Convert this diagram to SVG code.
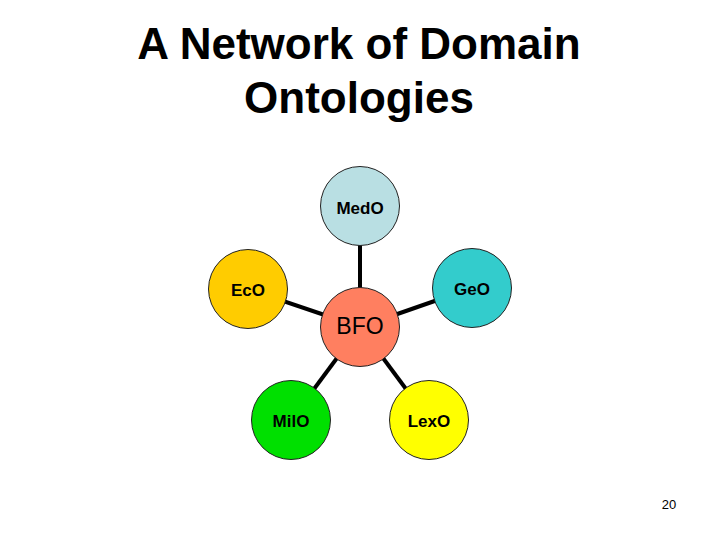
<svg xmlns="http://www.w3.org/2000/svg" width="720" height="540" viewBox="0 0 720 540">
<style>
.title{font-family:"Liberation Sans",Arial,sans-serif;font-weight:bold;font-size:44px;fill:#000;text-anchor:middle}
.lbl{font-family:"Liberation Sans",Arial,sans-serif;font-weight:bold;font-size:17px;fill:#000;text-anchor:middle}
.big{font-family:"Liberation Sans",Arial,sans-serif;font-size:23px;fill:#000;text-anchor:middle}
.pg{font-family:"Liberation Sans",Arial,sans-serif;font-size:13px;fill:#000;text-anchor:middle}
.node{stroke:#222;stroke-width:1}
.conn{stroke:#000;stroke-width:4;fill:none}
</style>
<rect width="720" height="540" fill="#fff"/>
<text class="title" x="359" y="59">A Network of Domain</text>
<text class="title" x="359" y="113">Ontologies</text>
<g id="connectors">
<line class="conn" x1="360" y1="206" x2="360" y2="327"/>
<line class="conn" x1="248" y1="289" x2="360" y2="327"/>
<line class="conn" x1="472" y1="288" x2="360" y2="327"/>
<line class="conn" x1="291" y1="420" x2="360" y2="327"/>
<line class="conn" x1="429" y1="420" x2="360" y2="327"/>
</g>
<g id="MedO"><circle class="node" cx="360" cy="206" r="39.5" fill="#b9dfe3"/><text class="lbl" x="360" y="214">MedO</text></g>
<g id="EcO"><circle class="node" cx="248" cy="289" r="39.5" fill="#ffcc00"/><text class="lbl" x="248" y="296">EcO</text></g>
<g id="GeO"><circle class="node" cx="472" cy="288" r="39.5" fill="#33cccc"/><text class="lbl" x="472" y="295">GeO</text></g>
<g id="BFO"><circle class="node" cx="360" cy="327" r="39.5" fill="#ff7f60"/><text class="big" x="360" y="334">BFO</text></g>
<g id="MilO"><circle class="node" cx="291" cy="420" r="39.5" fill="#00e000"/><text class="lbl" x="291" y="427">MilO</text></g>
<g id="LexO"><circle class="node" cx="429" cy="420" r="39.5" fill="#ffff00"/><text class="lbl" x="429" y="427">LexO</text></g>
<text class="pg" x="669" y="509">20</text>
</svg>
